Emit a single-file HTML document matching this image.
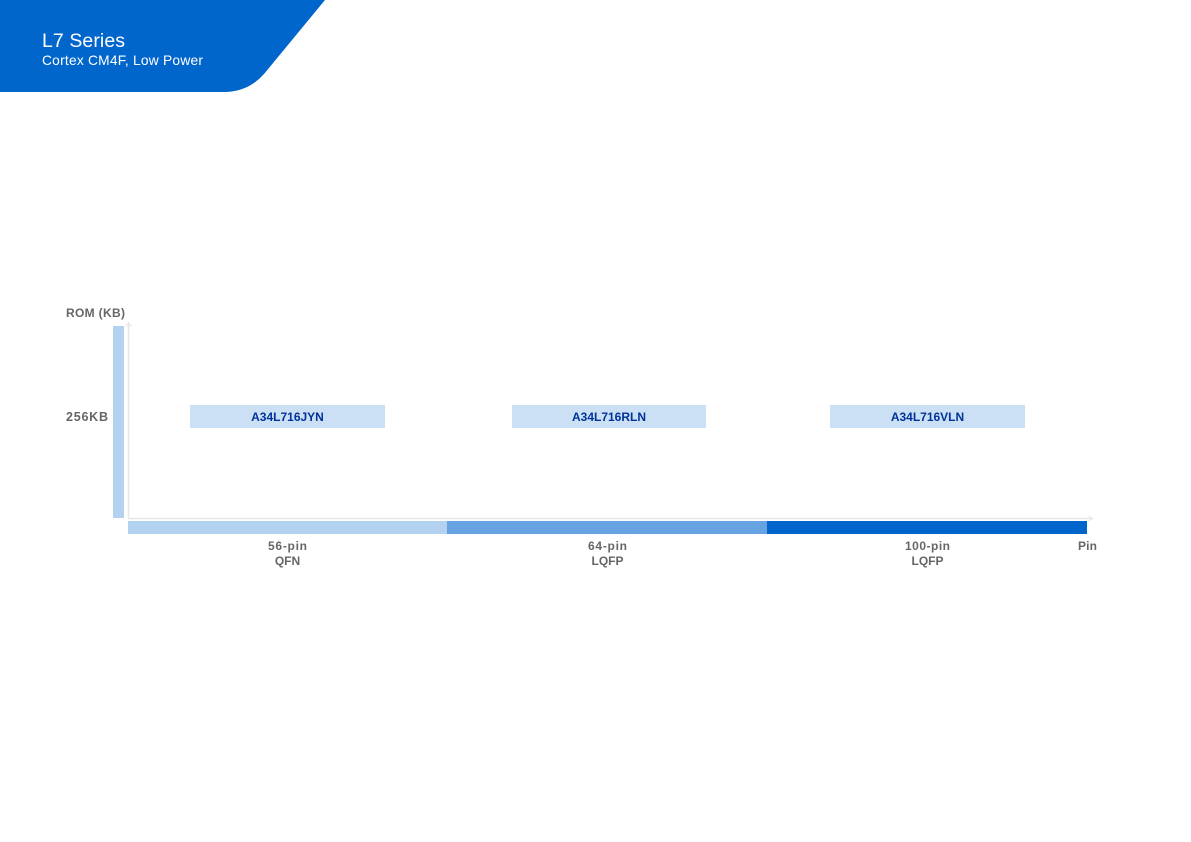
<!DOCTYPE html>
<html><head><meta charset="utf-8"><style>
html,body{margin:0;padding:0;background:#fff;}
svg{display:block;}
text{font-family:"Liberation Sans",sans-serif;}
</style></head><body>
<svg width="1191" height="842" viewBox="0 0 1191 842" xmlns="http://www.w3.org/2000/svg">
<path d="M0 0 H325 L264 74 Q248 92 224 92 H0 Z" fill="#0066cc"/>
<text x="42" y="47" font-size="19.5" fill="#fff" textLength="83" lengthAdjust="spacing">L7 Series</text>
<text x="42" y="65" font-size="13.8" fill="#fff" textLength="161" lengthAdjust="spacing">Cortex CM4F, Low Power</text>

<text x="66" y="317" font-size="12" font-weight="bold" fill="#666" textLength="59" lengthAdjust="spacing">ROM (KB)</text>
<rect x="113" y="326" width="11" height="192" fill="#b3d2f0"/>
<line x1="128.5" y1="323" x2="128.5" y2="518" stroke="#e6e6e6" stroke-width="1.5"/>
<polyline points="125.5,327 128.5,322.5 131.5,327" fill="none" stroke="#e6e6e6" stroke-width="1"/>
<line x1="128" y1="518.5" x2="1092" y2="518.5" stroke="#e6e6e6" stroke-width="1.5"/>
<polyline points="1088,515.5 1092.5,518.5 1088,521.5" fill="none" stroke="#e6e6e6" stroke-width="1"/>

<text x="66" y="421" font-size="12.5" font-weight="bold" fill="#666" textLength="42" lengthAdjust="spacing">256KB</text>

<rect x="190" y="405" width="195" height="23" fill="#cce0f5"/>
<text x="287.5" y="421" font-size="12" font-weight="bold" fill="#003399" text-anchor="middle">A34L716JYN</text>
<rect x="512" y="405" width="194" height="23" fill="#cce0f5"/>
<text x="609" y="421" font-size="12" font-weight="bold" fill="#003399" text-anchor="middle">A34L716RLN</text>
<rect x="830" y="405" width="195" height="23" fill="#cce0f5"/>
<text x="927.5" y="421" font-size="12" font-weight="bold" fill="#003399" text-anchor="middle">A34L716VLN</text>

<rect x="128" y="521" width="320" height="13" fill="#b3d2f0"/>
<rect x="447" y="521" width="321" height="13" fill="#66a3e0"/>
<rect x="767" y="521" width="320" height="13" fill="#0066cc"/>

<g font-size="12" font-weight="bold" fill="#666" text-anchor="middle">
<text x="287.5" y="550" textLength="39" lengthAdjust="spacing">56-pin</text>
<text x="287.5" y="565">QFN</text>
<text x="607.5" y="550" textLength="39" lengthAdjust="spacing">64-pin</text>
<text x="607.5" y="565" textLength="32" lengthAdjust="spacing">LQFP</text>
<text x="927.5" y="550" textLength="45" lengthAdjust="spacing">100-pin</text>
<text x="927.5" y="565" textLength="32" lengthAdjust="spacing">LQFP</text>
</g>
<text x="1078" y="550" font-size="12" font-weight="bold" fill="#666" textLength="19" lengthAdjust="spacing">Pin</text>
</svg>
</body></html>
